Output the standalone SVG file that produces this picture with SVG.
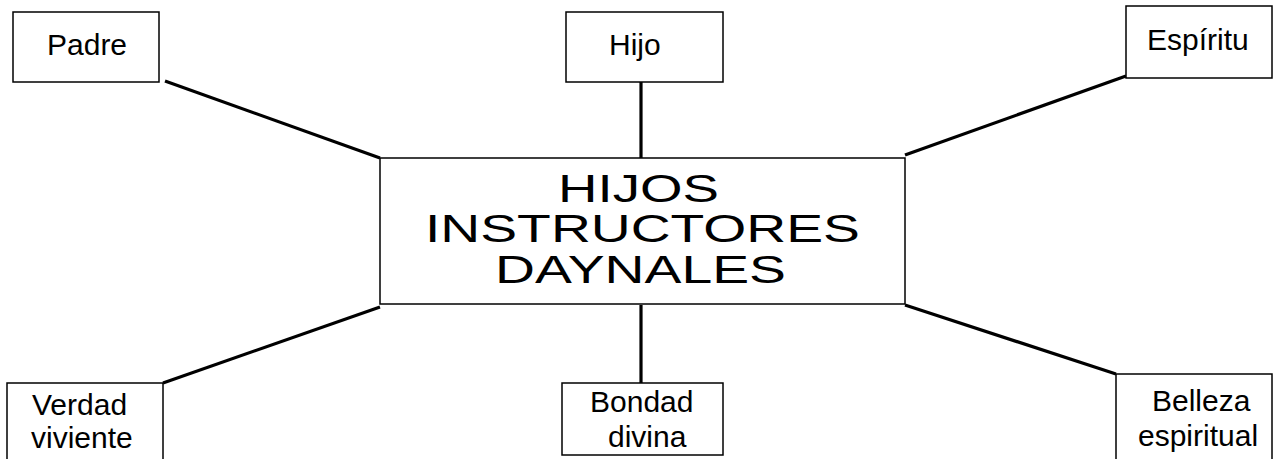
<svg xmlns="http://www.w3.org/2000/svg" width="1283" height="459" viewBox="0 0 1283 459">
<style>
.box{fill:#fff;stroke:#000;stroke-width:1.5}
.t{font-family:"Liberation Sans",Arial,sans-serif;font-size:30px;fill:#000}
.big{font-family:"Liberation Sans",Arial,sans-serif;font-size:39px;fill:#000}
.c{stroke:#000;stroke-width:3.2;fill:none}
</style>
<rect width="1283" height="459" fill="#fff"/>
<g id="connectors">
<line class="c" x1="165" y1="81" x2="380" y2="158"/>
<line class="c" x1="641" y1="82" x2="641" y2="158"/>
<line class="c" x1="905" y1="155" x2="1126" y2="76"/>
<line class="c" x1="163" y1="383" x2="380" y2="307"/>
<line class="c" x1="641" y1="305" x2="641" y2="383"/>
<line class="c" x1="905" y1="305" x2="1116" y2="374"/>
</g>
<g id="center">
<rect class="box" x="380" y="158" width="525" height="146"/>
<text class="big" x="558" y="202" textLength="161" lengthAdjust="spacingAndGlyphs">HIJOS</text>
<text class="big" x="425" y="242" textLength="435" lengthAdjust="spacingAndGlyphs">INSTRUCTORES</text>
<text class="big" x="495" y="283" textLength="291" lengthAdjust="spacingAndGlyphs">DAYNALES</text>
</g>
<g id="padre">
<rect class="box" x="13" y="12" width="146" height="70"/>
<text class="t" x="47" y="55">Padre</text>
</g>
<g id="hijo">
<rect class="box" x="566" y="12" width="157" height="70"/>
<text class="t" x="609" y="55">Hijo</text>
</g>
<g id="espiritu">
<rect class="box" x="1126" y="6" width="146" height="72"/>
<text class="t" x="1147" y="50">Espíritu</text>
</g>
<g id="verdad">
<rect class="box" x="7" y="383" width="156" height="82"/>
<text class="t" x="32" y="415">Verdad</text>
<text class="t" x="31" y="448">viviente</text>
</g>
<g id="bondad">
<rect class="box" x="562" y="383" width="161" height="72"/>
<text class="t" x="590" y="412">Bondad</text>
<text class="t" x="608" y="447">divina</text>
</g>
<g id="belleza">
<rect class="box" x="1116" y="374" width="156" height="90"/>
<text class="t" x="1152" y="411">Belleza</text>
<text class="t" x="1138" y="446">espiritual</text>
</g>
</svg>
